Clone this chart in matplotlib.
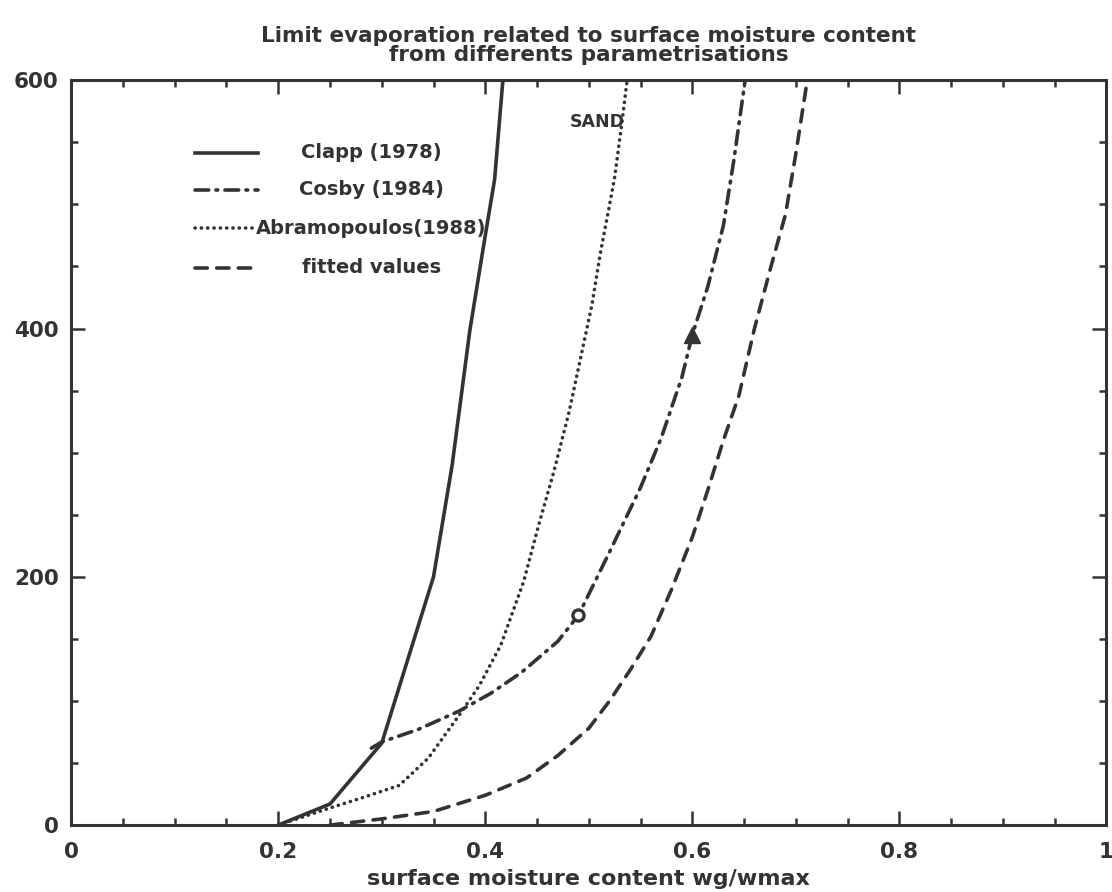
import numpy as np
import matplotlib.pyplot as plt
from matplotlib.ticker import MultipleLocator, FuncFormatter

# limit evaporation vs surface moisture content, one curve per parametrisation
clapp_x = [0.2, 0.25, 0.3, 0.35, 0.368, 0.385, 0.4, 0.409, 0.417]
clapp_y = [0, 17, 66, 200, 290, 398, 475, 520, 600]

cosby_x = [0.29, 0.30, 0.335, 0.375, 0.405, 0.435, 0.47, 0.49, 0.52, 0.55,
           0.57, 0.59, 0.6, 0.615, 0.63, 0.64, 0.651]
cosby_y = [62, 67, 77, 92, 106, 123, 148, 169, 220, 272,
           312, 361, 395, 434, 483, 535, 600]

abram_x = [0.2, 0.247, 0.281, 0.317, 0.345, 0.376, 0.394, 0.415, 0.437, 0.452,
           0.466, 0.481, 0.492, 0.503, 0.511, 0.519, 0.525, 0.532, 0.537]
abram_y = [0, 13, 22, 32, 54, 90, 112, 145, 196, 243,
           284, 333, 376, 419, 460, 495, 522, 566, 600]

fitted_x = [0.25, 0.3, 0.35, 0.4, 0.44, 0.47, 0.5, 0.52, 0.54, 0.56,
            0.58, 0.6, 0.615, 0.63, 0.645, 0.66, 0.675, 0.69, 0.7, 0.711]
fitted_y = [0, 5, 11, 24, 38, 56, 78, 100, 125, 152,
            190, 232, 270, 310, 346, 400, 447, 492, 541, 600]

labels = ['Clapp (1978)', 'Cosby (1984)', 'Abramopoulos(1988)', 'fitted values']

ink = '#333333'
plt.rcParams['font.family'] = 'DejaVu Sans'
plt.rcParams['font.weight'] = 'bold'

fig = plt.figure(figsize=(11.12, 8.92), dpi=100)
ax = fig.add_axes([0.064, 0.075, 0.931, 0.835])

styles = [
    dict(linestyle='-'),
    dict(linestyle=(0, (3.8, 2.0, 0.5, 2.0))),
    dict(linestyle=(0, (0.05, 1.7))),
    dict(linestyle=(0, (3.4, 2.6))),
]
series = [(clapp_x, clapp_y), (cosby_x, cosby_y), (abram_x, abram_y), (fitted_x, fitted_y)]

for (xs, ys), st in zip(series, styles):
    ax.plot(xs, ys, color=ink, lw=2.6, dash_capstyle='round',
            solid_capstyle='round', **st)

# the two marked points on the Cosby curve
ax.plot(cosby_x[7], cosby_y[7], marker='o', ms=8, mfc='white', mec=ink, mew=2.4)
ax.plot(cosby_x[12], cosby_y[12], marker='^', ms=12, color=ink)

ax.text(0.535, 566, 'SAND', ha='right', va='center', fontsize=12.5, color=ink)

# legend: short line samples with centred labels
leg_y = [0.903, 0.853, 0.801, 0.748]
for i, (lab, st) in enumerate(zip(labels, styles)):
    ax.plot([0.12, 0.18], [leg_y[i], leg_y[i]], transform=ax.transAxes,
            color=ink, lw=2.6, dash_capstyle='round', **st)
    ax.text(0.29, leg_y[i], lab, transform=ax.transAxes, ha='center',
            va='center', fontsize=14, color=ink)

ax.set_xlim(0, 1)
ax.set_ylim(0, 600)
ax.xaxis.set_major_locator(MultipleLocator(0.2))
ax.xaxis.set_minor_locator(MultipleLocator(0.05))
ax.yaxis.set_major_locator(MultipleLocator(200))
ax.yaxis.set_minor_locator(MultipleLocator(50))
ax.xaxis.set_major_formatter(FuncFormatter(lambda v, p: '%g' % v))

ax.tick_params(which='both', direction='in', top=True, right=True,
               color=ink, width=1.8, labelsize=15.5, labelcolor=ink)
ax.tick_params(which='major', length=10)
ax.tick_params(which='minor', length=5)
ax.tick_params(axis='x', pad=12)
ax.tick_params(axis='y', pad=9)

for s in ax.spines.values():
    s.set_linewidth(2.2)
    s.set_color(ink)

ax.set_xlabel('surface moisture content wg/wmax', fontsize=16, color=ink,
              fontweight='bold', labelpad=5)
ax.set_title('Limit evaporation related to surface moisture content\n'
             'from differents parametrisations', fontsize=15.5, color=ink,
             fontweight='bold', linespacing=0.9, pad=14)

fig.savefig('out.png', dpi=100)
